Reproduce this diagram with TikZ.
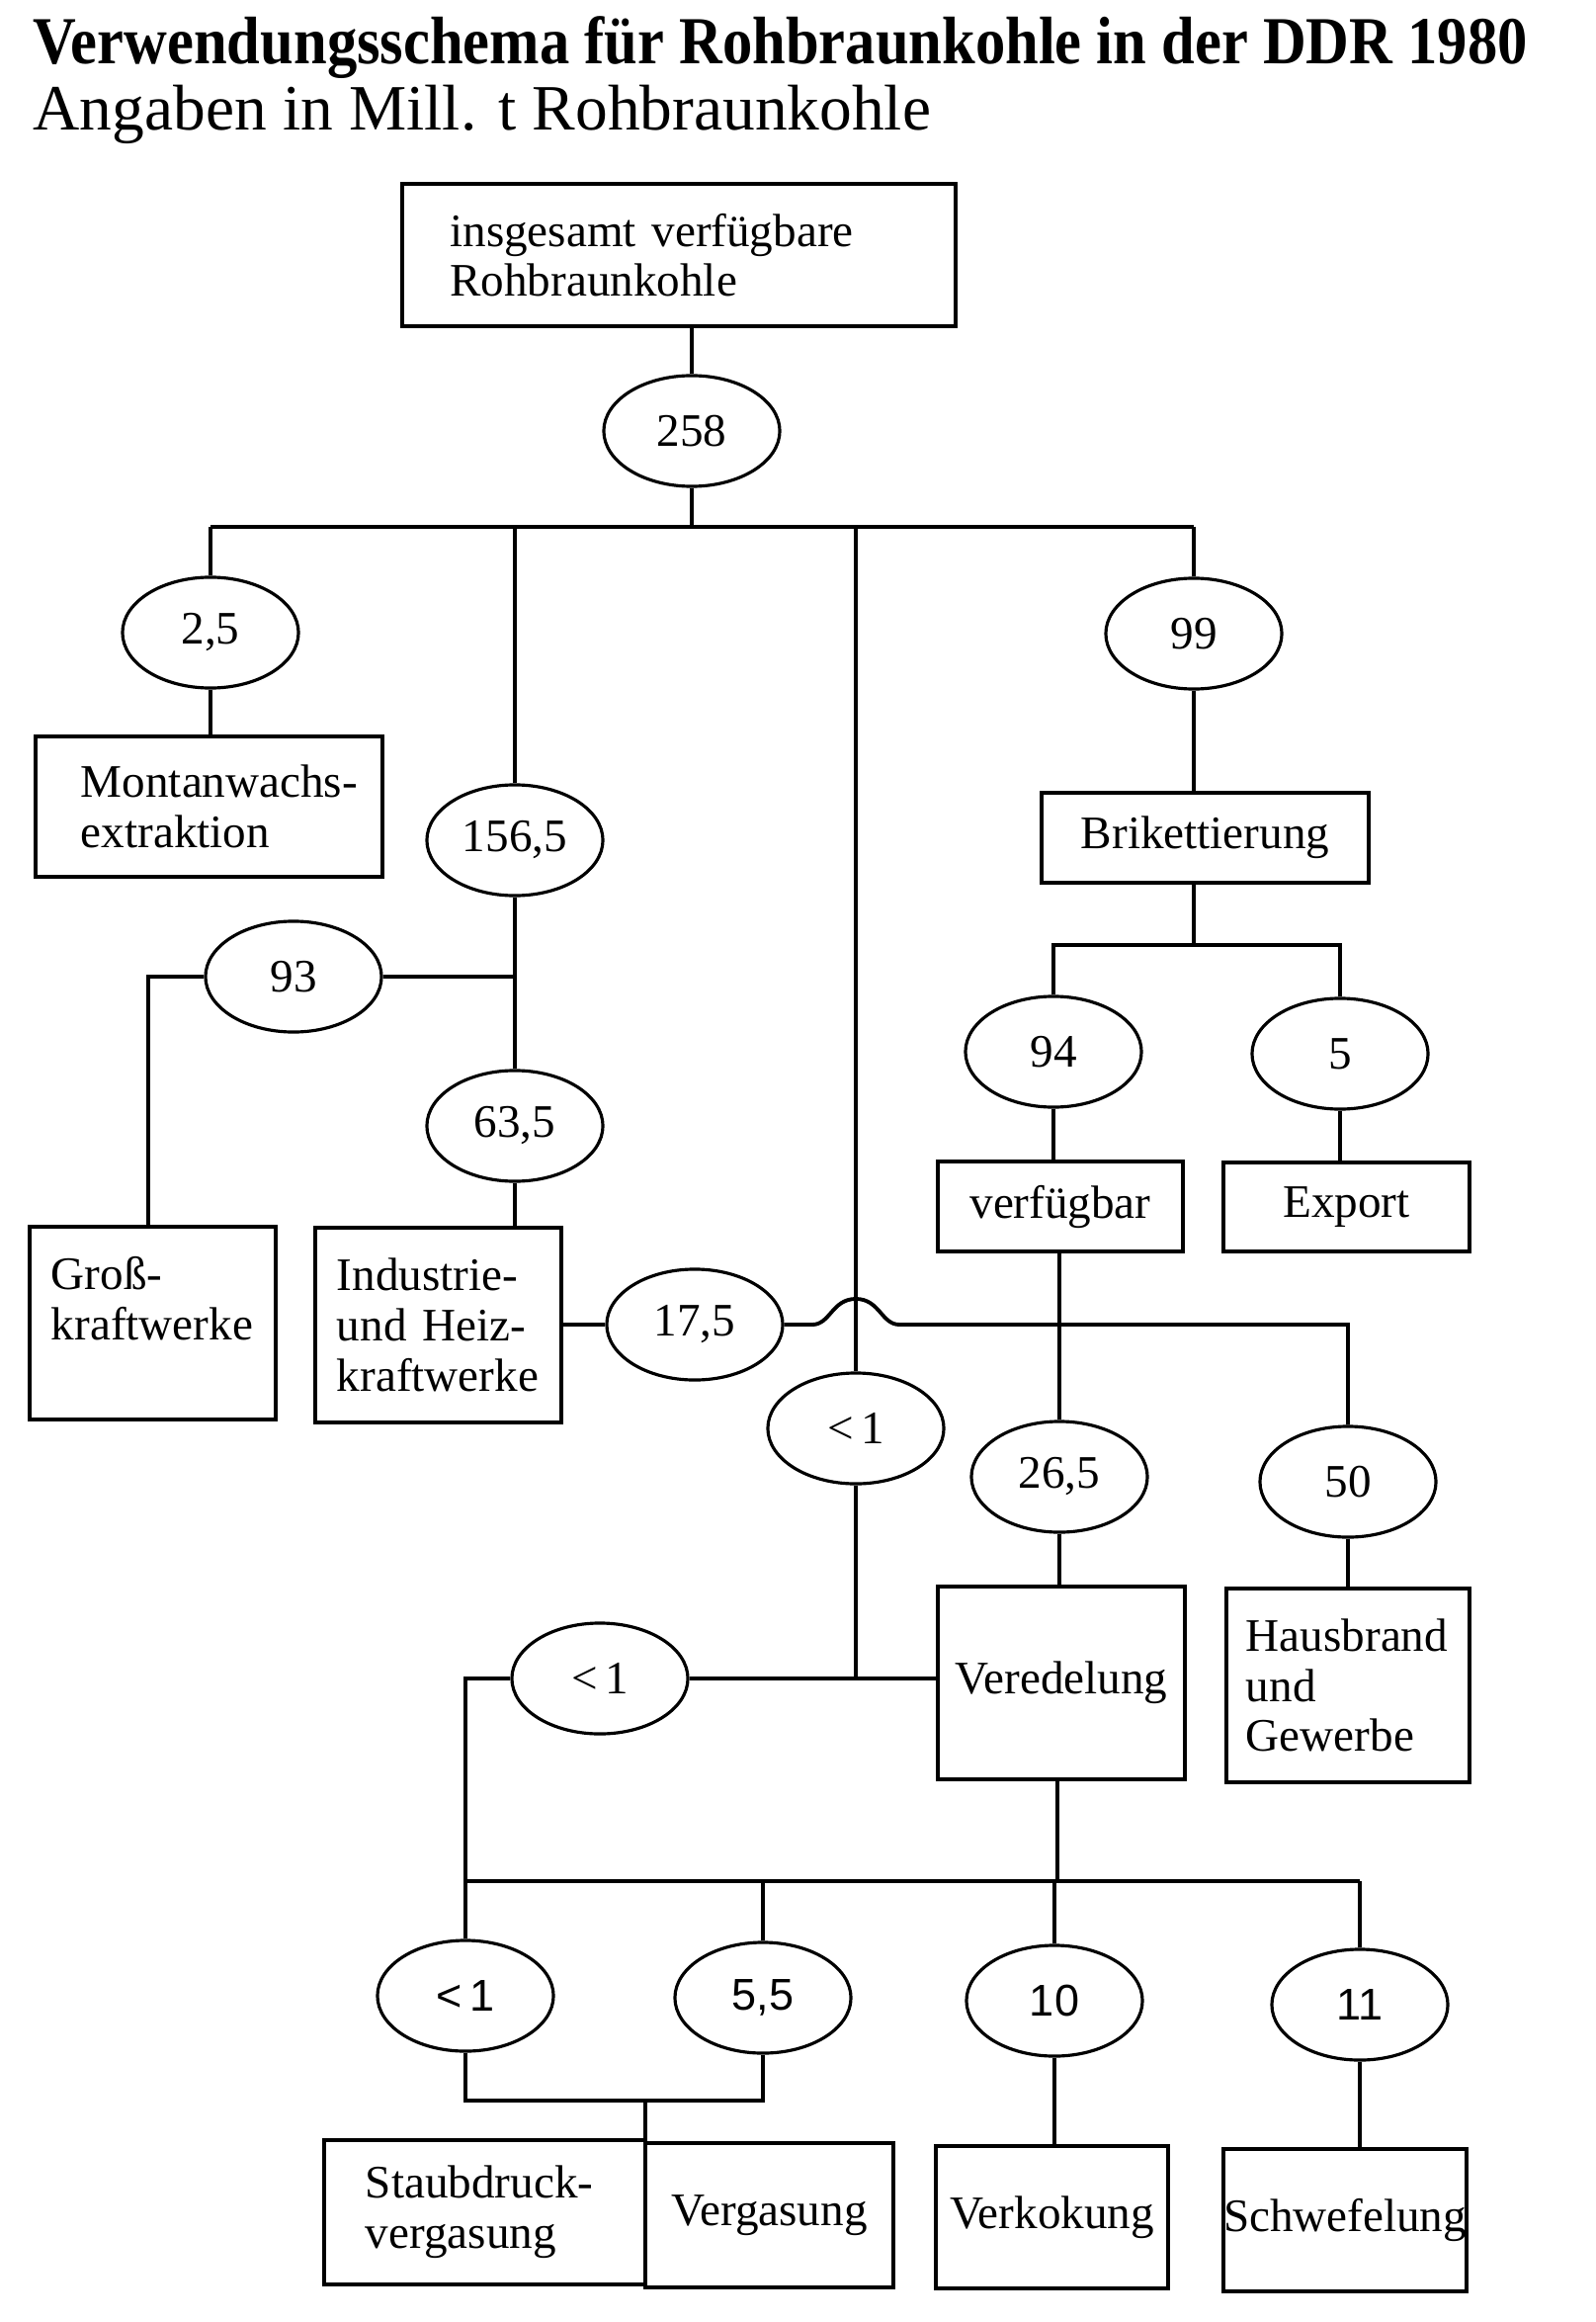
\documentclass[tikz,border=0pt]{standalone}
\usepackage{fontspec}
\setmainfont{Liberation Serif}
\setsansfont{Liberation Sans}
\newfontfamily\titelfont[FakeStretch=0.89]{Liberation Serif}
\usepackage{tikz}
\usetikzlibrary{
	shapes.geometric
}
\tikzset{
	linie/.style={line width=1.1pt},
	zahlnode/.style={ellipse, draw, line width=0.9pt, minimum width=1.78cm, minimum height=1.12cm, inner sep=0pt, font=\fontsize{13.4}{14}\selectfont},
	sansnode/.style={zahlnode, font=\sffamily\fontsize{12.8}{14}\selectfont},
	blocknode/.style={draw, line width=1.1pt, align=left, inner ysep=0pt, font=\fontsize{13.4}{14.4}\selectfont}
}

\begin{document}
\begin{tikzpicture}[x=0.01cm, y=-0.01cm]
	\useasboundingbox (0,0) rectangle (1614,2349);
	\node[anchor=base west, inner sep=0pt, font=\titelfont\bfseries\fontsize{19.35}{20}\selectfont] (titel) at (33,65) {Verwendungsschema für Rohbraunkohle in der DDR 1980};
	\node[anchor=base west, inner sep=0pt, font=\fontsize{18.6}{20}\selectfont] (untertitel) at (33,132) {Angaben in Mill. t Rohbraunkohle};

	\node[blocknode, text width=4.63cm, inner xsep=0.48cm, minimum height=1.44cm] (gesamt) at (687,258) {insgesamt verfügbare\\Rohbraunkohle};
	\node[zahlnode] (e258) at (700,436) {258};
	\coordinate (bus) at (700,533);

	\node[zahlnode] (e25) at (213,640) {2,5};
	\node[blocknode, text width=2.59cm, inner xsep=0.46cm, minimum height=1.42cm] (montan) at (211.5,816) {\mbox{Montanwachs-}\\extraktion};
	\node[zahlnode] (e1565) at (521,850) {156,5};
	\node[zahlnode] (e93) at (297,988) {93};
	\coordinate (eckegross) at (150,988);
	\node[zahlnode] (e635) at (521,1139) {63,5};
	\node[blocknode, text width=2.05cm, inner xsep=0.22cm, minimum height=1.95cm] (gross) at (154.5,1338.5) {Groß-\\kraftwerke\\\mbox{}};
	\node[blocknode, text width=2.05cm, inner xsep=0.22cm, minimum height=1.97cm] (industrie) at (443.5,1340.5) {Industrie-\\und Heiz-\\kraftwerke};
	\node[zahlnode] (e175) at (703,1340) {17,5};

	\node[zahlnode] (emitte) at (866,1445) {<\,1};
	\coordinate (bogen) at (866,1340);

	\node[zahlnode] (e99) at (1208,641) {99};
	\node[blocknode, minimum width=3.31cm, minimum height=0.91cm] (brikett) at (1219.5,847.5) {Brikettierung};
	\coordinate (bus2) at (1208,956);
	\node[zahlnode] (e94) at (1066,1064) {94};
	\node[zahlnode] (e5) at (1356,1066) {5};
	\node[blocknode, minimum width=2.48cm, minimum height=0.91cm] (verfuegbar) at (1073,1220.5) {verfügbar};
	\node[blocknode, minimum width=2.49cm, minimum height=0.9cm] (export) at (1362.5,1221) {Export};
	\node[zahlnode] (e265) at (1072,1494) {26,5};
	\node[zahlnode] (e50) at (1364,1499) {50};
	\node[blocknode, text width=2.06cm, inner xsep=0.2cm, minimum height=1.96cm] (hausbrand) at (1364,1705) {Hausbrand\\und\\Gewerbe};
	\node[blocknode, minimum width=2.5cm, minimum height=1.95cm] (veredelung) at (1074,1702.5) {Veredelung};

	\node[zahlnode] (elinks) at (607,1698) {<\,1};
	\coordinate (bus3) at (1070,1903);
	\node[sansnode] (eu1) at (471,2019) {<\,1};
	\node[sansnode] (eu55) at (772,2021) {5,5};
	\node[sansnode] (eu10) at (1067,2024) {10};
	\node[sansnode] (eu11) at (1376,2028) {11};
	\coordinate (zusammen) at (653,2125);
	\node[blocknode, text width=2.41cm, inner xsep=0.42cm, minimum height=1.46cm] (staub) at (490.5,2238) {Staubdruck-\\vergasung};
	\node[blocknode, minimum width=2.51cm, minimum height=1.46cm] (vergasung) at (778.5,2241) {Vergasung};
	\node[blocknode, minimum width=2.35cm, minimum height=1.44cm] (verkokung) at (1064.5,2243) {Verkokung};
	\node[blocknode, minimum width=2.46cm, minimum height=1.44cm, inner xsep=0pt] (schwefelung) at (1361,2246) {Schwefelung};

	\draw[linie] (gesamt.south -| e258) -- (e258);
	\draw[linie] (e258) -- (bus);
	\draw[linie] (e25 |- bus) -- (e99 |- bus);
	\draw[linie] (e25 |- bus) -- (e25);
	\draw[linie] (e1565 |- bus) -- (e1565);
	\draw[linie] (e99 |- bus) -- (e99);
	\draw[linie] (emitte |- bus) -- (emitte);
	\draw[linie] (emitte) -- (emitte |- elinks);

	\draw[linie] (e25) -- (e25 |- montan.north);
	\draw[linie] (e1565) -- (e635);
	\draw[linie] (e1565 |- e93) -- (e93);
	\draw[linie] (e93) -- (eckegross) -- (eckegross |- gross.north);
	\draw[linie] (e635) -- (e635 |- industrie.north);
	\draw[linie] (industrie.east |- e175) -- (e175);
	\draw[linie] (e175) -- ([shift={(-44,0)}]bogen) .. controls ([shift={(-26,0)}]bogen) and ([shift={(-24,-26)}]bogen) .. ([shift={(0,-26)}]bogen) .. controls ([shift={(24,-26)}]bogen) and ([shift={(26,0)}]bogen) .. ([shift={(44,0)}]bogen) -- (e50 |- e175) -- (e50);

	\draw[linie] (e99) -- (e99 |- brikett.north);
	\draw[linie] (brikett.south -| e99) -- (bus2);
	\draw[linie] (e94) |- (bus2) -| (e5);
	\draw[linie] (e94) -- (e94 |- verfuegbar.north);
	\draw[linie] (e5) -- (e5 |- export.north);
	\draw[linie] (verfuegbar.south -| e265) -- (e265);
	\draw[linie] (e265) -- (e265 |- veredelung.north);
	\draw[linie] (e50) -- (e50 |- hausbrand.north);

	\draw[linie] (veredelung.west |- elinks) -- (elinks);
	\draw[linie] (elinks) -| (eu1);
	\draw[linie] (veredelung.south -| bus3) -- (bus3);
	\draw[linie] (eu1 |- bus3) -- (eu11 |- bus3);
	\draw[linie] (eu55 |- bus3) -- (eu55);
	\draw[linie] (eu10 |- bus3) -- (eu10);
	\draw[linie] (eu11 |- bus3) -- (eu11);
	\draw[linie] (eu1) |- (zusammen) -| (eu55);
	\draw[linie] (zusammen) -- (zusammen |- staub.north);
	\draw[linie] (eu10) -- (eu10 |- verkokung.north);
	\draw[linie] (eu11) -- (eu11 |- schwefelung.north);
\end{tikzpicture}
\end{document}
